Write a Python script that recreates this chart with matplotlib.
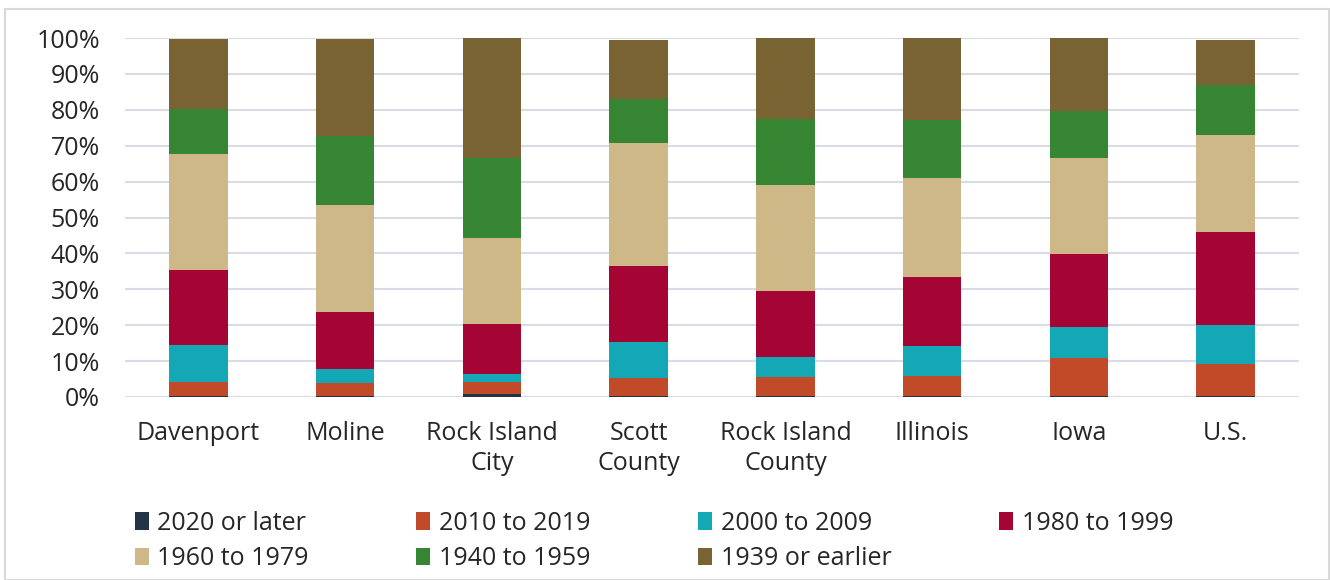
import numpy as np
import matplotlib.pyplot as plt
from matplotlib.patches import Rectangle

plt.rcParams['font.family'] = ['Open Sans', 'DejaVu Sans']

# Kategori dan data (persen)
categories = ['Davenport', 'Moline', 'Rock Island\nCity', 'Scott\nCounty',
              'Rock Island\nCounty', 'Illinois', 'Iowa', 'U.S.']
series_names = ['2020 or later', '2010 to 2019', '2000 to 2009', '1980 to 1999',
                '1960 to 1979', '1940 to 1959', '1939 or earlier']

y2020 = [0.3, 0.2, 0.7, 0.2, 0.2, 0.3, 0.2, 0.2]
y2010 = [3.9, 3.6, 3.4, 5.2, 5.4, 5.6, 10.8, 9.0]
y2000 = [10.3, 4.0, 2.2, 10.0, 5.5, 8.2, 8.5, 10.9]
y1980 = [21.0, 15.9, 14.0, 21.1, 18.4, 19.4, 20.4, 26.0]
y1960 = [32.2, 29.8, 24.1, 34.2, 29.6, 27.5, 26.8, 26.9]
y1940 = [12.5, 19.1, 22.1, 12.2, 18.3, 16.2, 12.9, 13.8]
y1939 = [19.5, 27.0, 33.8, 16.5, 22.6, 23.1, 20.4, 12.7]

colors = ['#243447', '#C14A29', '#14A7B5', '#A50534', '#CFB887', '#358533', '#7A6333']

fs = 18

fig = plt.figure(figsize=(13.31, 5.80), dpi=100)
ax = fig.add_axes([125/1331, 183/580, 1174/1331, 359/580])

# Bingkai tipis di sekitar gambar
fig.patches.append(Rectangle((5/1331, 0), 1324/1331, 571/580, transform=fig.transFigure,
                             fill=False, edgecolor='#d9d9d9', linewidth=1.5))

x = np.arange(len(categories))
bottom = np.zeros(len(categories))
handles = []
for vals, name, c in zip([y2020, y2010, y2000, y1980, y1960, y1940, y1939], series_names, colors):
    b = ax.bar(x, vals, width=0.4, bottom=bottom, color=c, label=name, zorder=3)
    handles.append(b)
    bottom += np.array(vals)

ax.set_xlim(-0.5, 7.5)
ax.set_ylim(0, 100)
ax.set_yticks(np.arange(0, 101, 10))
ax.set_yticklabels([f'{v}%' for v in range(0, 101, 10)])
ax.set_xticks(x)
ax.set_xticklabels(categories, linespacing=1.28)
ax.tick_params(axis='both', length=0, labelsize=fs, labelcolor='#262626')
ax.tick_params(axis='y', pad=18)
ax.tick_params(axis='x', pad=17)

ax.grid(axis='y', color='#d9dce6', linewidth=1.5, zorder=0)
for s in ax.spines.values():
    s.set_visible(False)

# Legenda: urutan diatur supaya baris pertama berisi 4 item pertama
order = [0, 4, 1, 5, 2, 6, 3]
fig.legend([handles[i] for i in order], [series_names[i] for i in order],
           ncol=4, loc='upper left', bbox_to_anchor=(122/1331, 1 - 498/580),
           frameon=False, fontsize=fs, handlelength=0.56, handleheight=0.7,
           handletextpad=0.35, columnspacing=4.3, labelspacing=0.43, borderpad=0,
           labelcolor='#262626')

fig.savefig('out.png', dpi=100)
